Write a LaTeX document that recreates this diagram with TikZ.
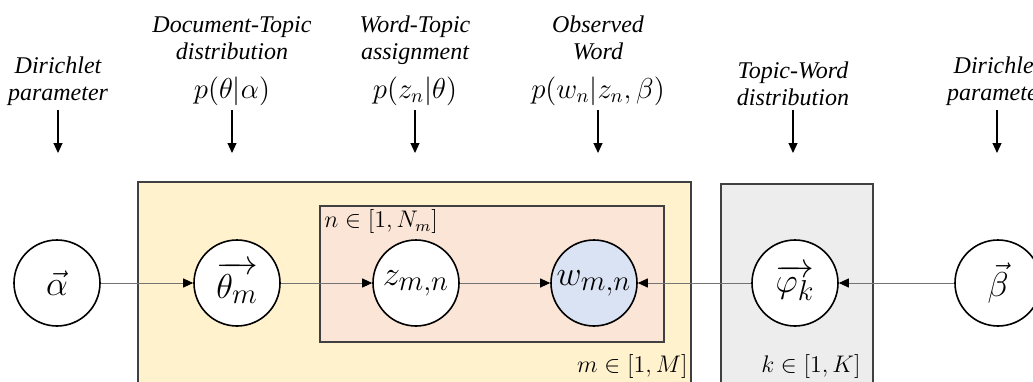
\documentclass[tikz,border=0pt]{standalone}
\usepackage{fontspec}
\setmainfont{Liberation Serif}
\usepackage{amsmath}
\usetikzlibrary{arrows.meta,positioning}

\definecolor{docfill}{HTML}{FFF2CC}
\definecolor{wordfill}{HTML}{FBE5D6}
\definecolor{obsfill}{HTML}{DAE3F3}
\definecolor{topicfill}{HTML}{EDEDED}

\begin{document}
\begin{tikzpicture}[x=0.5pt, y=0.5pt,
  plate/.style={draw=black!75, line width=0.8pt, rectangle, inner sep=0pt, anchor=north west},
  var/.style={draw, circle, line width=0.8pt, fill=white, minimum size=43pt, inner sep=0pt,
              font=\fontsize{19}{22}\selectfont},
  edge/.style={-{Triangle[length=5pt, width=4.5pt, black]}, draw=black!55, line width=0.5pt},
  down/.style={-{Triangle[length=5pt, width=4.5pt]}, line width=0.6pt},
  toplabel/.style={align=center, font=\fontsize{12}{13.5}\selectfont\itshape, inner sep=0pt, anchor=south},
  platelabel/.style={inner sep=0pt, font=\fontsize{12}{14}\selectfont}
]
\useasboundingbox (0,0) rectangle (1033,381);
\clip (0,0) rectangle (1033,381);

% plates
\node[plate, fill=docfill, minimum width=276.5pt, minimum height=115pt] (docPlate) at (137,200) {};
\node[plate, fill=wordfill, minimum width=172pt, minimum height=68pt] (wordPlate) at (319,176) {};
\node[plate, fill=topicfill, minimum width=76pt, minimum height=115pt] (topicPlate) at (720,198) {};

\node[platelabel, anchor=north west] (nLabel) at ([xshift=2.5pt,yshift=-2pt]wordPlate.north west) {$n\in[1,N_m]$};
\node[platelabel, anchor=base east] (mLabel) at (688,9) {$m\in[1,M]$};
\node[platelabel, anchor=base] (kLabel) at (811,9) {$k\in[1,K]$};

% variables
\node[var] (alpha) at (57,98) {$\vec{\alpha}$};
\node[var] (theta) at (237,98) {$\overrightarrow{\theta_m}$};
\node[var] (z) at (416,98) {$z_{m,n}$};
\node[var, fill=obsfill] (w) at (594,98) {$w_{m,n}$};
\node[var] (phi) at (795,98) {$\overrightarrow{\varphi_k}$};
\node[var] (beta) at (998,98) {$\vec{\beta}$};

\draw[edge] (alpha) -- (theta);
\draw[edge] (theta) -- (z);
\draw[edge] (z) -- (w);
\draw[edge] (phi) -- (w);
\draw[edge] (beta) -- (phi);

% top labels
\foreach \nm/\x/\txt in {
  dirA/58/{Dirichlet\\parameter},
  docTopic/232/{Document-Topic\\distribution\\[6pt]{\upshape\fontsize{14}{15}\selectfont$p(\theta|\alpha)$}},
  wordTopic/415/{Word-Topic\\assignment\\[6pt]{\upshape\fontsize{14}{15}\selectfont$p(z_n|\theta)$}},
  obsWord/598/{Observed\\Word\\[6pt]{\upshape\fontsize{14}{15}\selectfont$p(w_n|z_n,\beta)$}},
  topicWord/793/{Topic-Word\\distribution},
  dirB/997/{Dirichlet\\parameter}}{
  \node[toplabel] (\nm) at (\x,275) {\txt};
  \coordinate (\nm-end) at (\x,228);
  \draw[down] (\x,271) -- (\nm-end);
}
\end{tikzpicture}
\end{document}
